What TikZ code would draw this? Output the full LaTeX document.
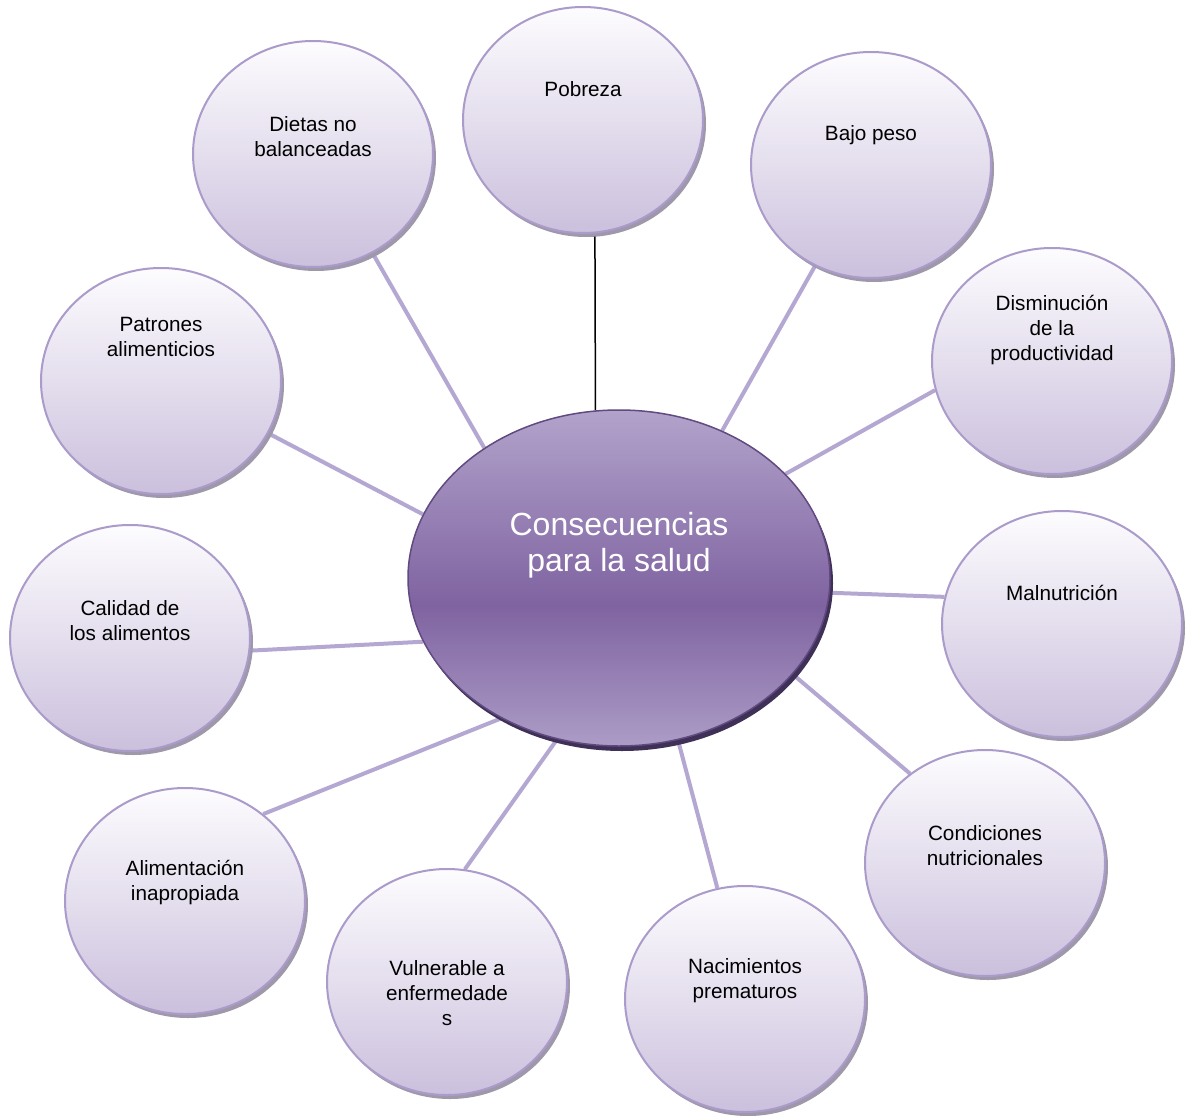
\documentclass[tikz,border=0pt]{standalone}
\usepackage{fontspec}
\setmainfont{Liberation Sans}
\usetikzlibrary{shapes.geometric,shadows,backgrounds}
\definecolor{BubTop}{RGB}{253,252,254}
\definecolor{BubBot}{RGB}{203,192,221}
\definecolor{BubLine}{RGB}{170,155,202}
\definecolor{BubShadow}{RGB}{158,152,170}
\definecolor{LinkColor}{RGB}{180,168,210}
\definecolor{SaludTop}{RGB}{178,163,203}
\definecolor{SaludMid}{RGB}{127,99,161}
\definecolor{SaludBot}{RGB}{172,156,198}
\definecolor{SaludLine}{RGB}{96,74,128}
\definecolor{SaludShadow}{RGB}{62,48,86}
\pgfdeclareverticalshading{saludshade}{100bp}{color(0bp)=(SaludBot); color(25bp)=(SaludBot); color(46bp)=(SaludMid); color(75bp)=(SaludTop); color(100bp)=(SaludTop)}

\begin{document}
\begin{tikzpicture}[x=1pt,y=-1pt,
  bub/.style={ellipse,draw=BubLine,line width=2pt,top color=BubTop,bottom color=BubBot,minimum width=240pt,minimum height=226pt,inner sep=0pt,general shadow={fill=BubShadow,shadow xshift=3pt,shadow yshift=-4pt}},
  txt/.style={align=center,font=\fontsize{20.7}{25}\selectfont,inner sep=0pt},
  link/.style={draw=LinkColor,line width=4pt}]
\useasboundingbox (0,0) rectangle (1186,1116);
% centre
\node[ellipse,draw=SaludLine,line width=1.5pt,shading=saludshade,minimum width=422pt,minimum height=336pt,inner sep=0pt,general shadow={fill=SaludShadow,shadow xshift=3pt,shadow yshift=-5pt}] (salud) at (619,578) {};
\node[align=center,font=\fontsize{32}{36}\selectfont,text=white,inner sep=0pt] (salud-t) at ([yshift=32.5pt]salud.center) {Consecuencias\\para la salud};
% bubbles
\foreach \n/\x/\y/\d/\lbl in {%
  pob/583/120/31/{Pobreza},
  dieta/313/154/17.5/{Dietas no\\balanceadas},
  bajo/871/165/30/{Bajo peso},
  prod/1052/361/30.5/{Disminución\\de la\\productividad},
  patr/161/381/44.5/{Patrones\\alimenticios},
  cal/130/638/17.5/{Calidad de\\los alimentos},
  maln/1062/624/31/{Malnutrición},
  alim/185/901/18.5/{Alimentación\\inapropiada},
  cond/985/863/17.5/{Condiciones\\nutricionales},
  vuln/447/982/-11.5/{Vulnerable a\\enfermedade\\s},
  nac/745/999/18.5/{Nacimientos\\prematuros}} {
  \node[bub] (\n) at (\x,\y) {};
  \node[txt] (\n-t) at ([yshift=\d pt]\n.center) {\lbl};
}
\begin{scope}[on background layer]
\fill[white] (0,0) rectangle (1186,1116);
\draw[line width=1.5pt] (pob.-84.4) -- (salud.98.5);
\draw[link] (dieta.-59.7) -- (salud.136.5);
\draw[link] (bajo.241.1) -- (salud.55.4);
\draw[link] (prod.194.3) -- (salud.32.1);
\draw[link] (patr.-26.6) -- (salud.162.2);
\draw[link] (cal.-6.1) -- (salud.198.9);
\draw[link] (alim.48.2) -- (salud.230.7);
\draw[link] (vuln.81.5) -- (salud.249.4);
\draw[link] (nac.104.4) -- (salud.-70.4);
\draw[link] (cond.130.4) -- (salud.-29.2);
\draw[link] (maln.167.3) -- (salud.-4.9);
\end{scope}
\end{tikzpicture}
\end{document}
